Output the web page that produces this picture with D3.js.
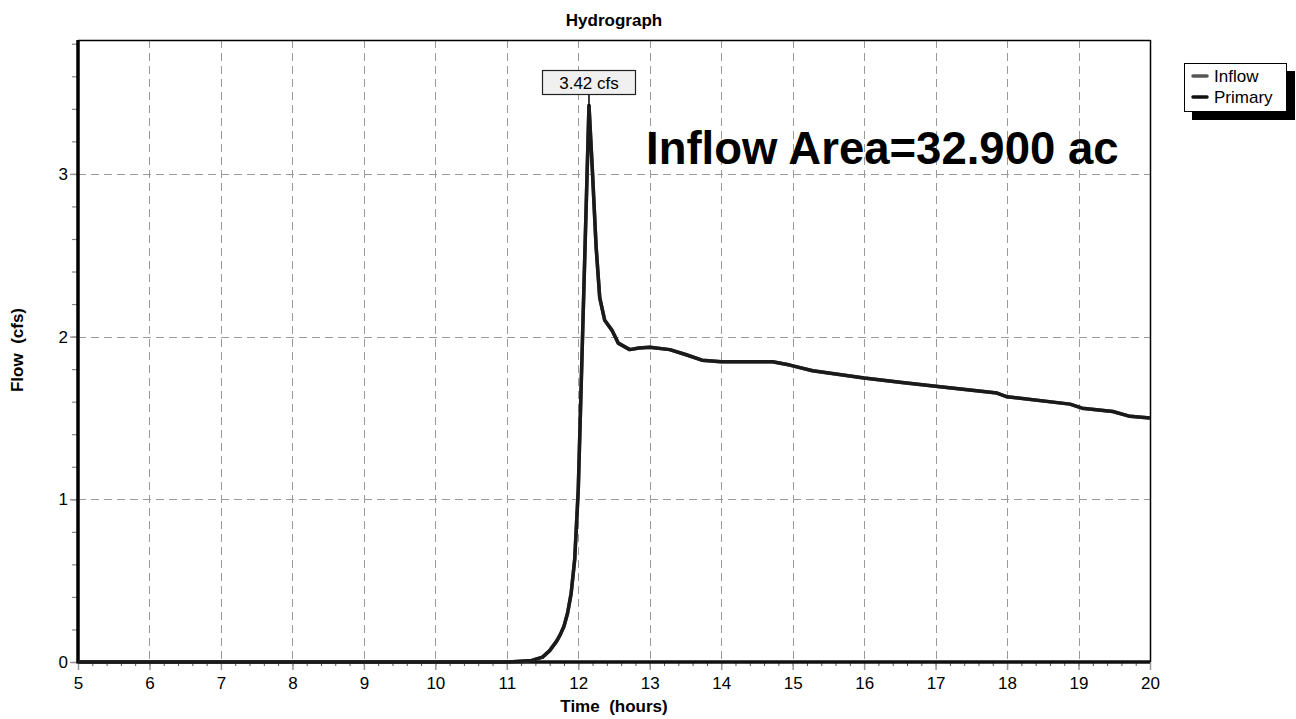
<!DOCTYPE html>
<html><head><meta charset="utf-8">
<script src="https://cdn.jsdelivr.net/npm/d3@7"></script>
<style>
body{margin:0;background:#fff;}
svg{display:block;font-family:"Liberation Sans",Arial,sans-serif;}
</style></head>
<body>
<svg id="chart" width="1296" height="719"></svg>
<script>
// ---- data ----
const times = [5, 11.0, 11.2, 11.35, 11.5, 11.6, 11.7, 11.75, 11.8, 11.85, 11.9, 11.95, 12.0, 12.15, 12.2, 12.25, 12.3, 12.37, 12.47, 12.56, 12.72, 12.85, 13.0, 13.28, 13.5, 13.73, 14.0, 14.72, 14.96, 15.28, 16.0, 16.5, 17.0, 17.86, 18.0, 18.88, 19.05, 19.48, 19.72, 20];
const primaryFlow = [0, 0, 0.005, 0.01, 0.03, 0.07, 0.13, 0.17, 0.22, 0.3, 0.42, 0.63, 1.06, 3.42, 3.0, 2.55, 2.24, 2.10, 2.04, 1.96, 1.92, 1.93, 1.935, 1.92, 1.89, 1.855, 1.845, 1.845, 1.825, 1.79, 1.745, 1.72, 1.695, 1.653, 1.63, 1.585, 1.56, 1.54, 1.51, 1.50];
const inflowFlow = primaryFlow.slice();
const xTicks = [5,6,7,8,9,10,11,12,13,14,15,16,17,18,19,20];
const yTicks = [0,1,2,3];
const seriesNames = ["Inflow","Primary"];
const peakLabel = "3.42 cfs";
const areaLabel = "Inflow Area=32.900 ac";

// ---- layout ----
const svg = d3.select("#chart");
const L=78, R=1150, T=40, B=662;
const FS = 17;
const x = d3.scaleLinear().domain([5,20]).range([L,R]);
const y = d3.scaleLinear().domain([0,3.823]).range([B,T]);

// grid
const grid = svg.append("g").attr("stroke","#9a9a9a").attr("stroke-width",1).attr("stroke-dasharray","8,5");
grid.selectAll("line.v").data(xTicks.filter(d=>d>5)).enter().append("line")
  .attr("x1",d=>Math.round(x(d))+0.5).attr("x2",d=>Math.round(x(d))+0.5).attr("y1",T).attr("y2",B);
grid.selectAll("line.h").data(yTicks.filter(d=>d>0)).enter().append("line")
  .attr("x1",L).attr("x2",R).attr("y1",d=>Math.round(y(d))+0.5).attr("y2",d=>Math.round(y(d))+0.5);

// frame top/right
svg.append("line").attr("x1",L).attr("x2",R+0.5).attr("y1",T+0.5).attr("y2",T+0.5).attr("stroke","#000").attr("stroke-width",1.5);
svg.append("line").attr("x1",R+0.5).attr("x2",R+0.5).attr("y1",T).attr("y2",B).attr("stroke","#000").attr("stroke-width",1.5);

// axes with d3
const xMinor = d3.range(5,20.001,0.2);
const xAxisMinor = d3.axisBottom(x).tickValues(xMinor).tickSize(4).tickFormat("");
const gxm = svg.append("g").attr("transform",`translate(0,${B})`).call(xAxisMinor);
gxm.select(".domain").remove();
gxm.selectAll("line").attr("stroke","#555");
const xAxis = d3.axisBottom(x).tickValues(xTicks).tickSize(8).tickPadding(7).tickFormat(d3.format("d"));
const gx = svg.append("g").attr("transform",`translate(0,${B})`).call(xAxis);
gx.select(".domain").remove();
gx.selectAll("line").attr("stroke","#999").attr("stroke-width",1.5);
gx.selectAll("text").attr("font-size",FS).attr("fill","#000").attr("font-family","Liberation Sans, Arial, sans-serif");

const yMinor = d3.range(0,3.81,0.2);
const yAxisMinor = d3.axisLeft(y).tickValues(yMinor).tickSize(6).tickFormat("");
const gym = svg.append("g").attr("transform",`translate(${L},0)`).call(yAxisMinor);
gym.select(".domain").remove();
gym.selectAll("line").attr("stroke","#888").attr("stroke-width",1.2);
const yAxis = d3.axisLeft(y).tickValues(yTicks).tickSize(8).tickPadding(2).tickFormat(d3.format("d"));
const gy = svg.append("g").attr("transform",`translate(${L},0)`).call(yAxis);
gy.select(".domain").remove();
gy.selectAll("line").attr("stroke","#999").attr("stroke-width",1.5);
gy.selectAll("text").attr("font-size",FS).attr("fill","#000").attr("font-family","Liberation Sans, Arial, sans-serif");

// thick axis lines
svg.append("line").attr("x1",L).attr("x2",L).attr("y1",T).attr("y2",B+1.5).attr("stroke","#000").attr("stroke-width",3.5);
svg.append("line").attr("x1",L).attr("x2",R).attr("y1",B).attr("y2",B).attr("stroke","#111").attr("stroke-width",3.5);

// series
const pts = arr => times.map((t,i)=>[t,arr[i]]);
const line = d3.line().x(d=>x(d[0])).y(d=>y(d[1]));
svg.append("path").attr("d",line(pts(inflowFlow))).attr("fill","none").attr("stroke","#555").attr("stroke-width",3.5).attr("stroke-linejoin","round");
svg.append("path").attr("d",line(pts(primaryFlow))).attr("fill","none").attr("stroke","#1a1a1a").attr("stroke-width",3.5).attr("stroke-linejoin","round");

// peak label
const pi = primaryFlow.indexOf(d3.max(primaryFlow));
const px = x(times[pi]), py = y(primaryFlow[pi]);
svg.append("line").attr("x1",px).attr("x2",px).attr("y1",94).attr("y2",py).attr("stroke","#000").attr("stroke-width",1.5);
svg.append("rect").attr("x",542.5).attr("y",70.5).attr("width",93).attr("height",24).attr("fill","#f0f0f0").attr("stroke","#222").attr("stroke-width",1.2);
svg.append("text").attr("x",589).attr("y",88.5).attr("text-anchor","middle").attr("font-size",FS).text(peakLabel);

// area label
svg.append("text").attr("x",646).attr("y",164).attr("font-size",45.5).attr("font-weight","bold").text(areaLabel);

// titles
svg.append("text").attr("x",614).attr("y",26).attr("text-anchor","middle").attr("font-size",FS).attr("font-weight","bold").text("Hydrograph");
svg.append("text").attr("x",614).attr("y",712).attr("text-anchor","middle").attr("font-size",FS).attr("font-weight","bold").style("white-space","pre").text("Time  (hours)");
svg.append("text").attr("transform","translate(23,350) rotate(-90)").attr("text-anchor","middle").attr("font-size",FS).attr("font-weight","bold").style("white-space","pre").text("Flow  (cfs)");

// legend
const lg = svg.append("g");
lg.append("rect").attr("x",1192).attr("y",71).attr("width",103).attr("height",49).attr("fill","#000");
lg.append("rect").attr("x",1184.5).attr("y",63.5).attr("width",102).attr("height",48).attr("fill","#fff").attr("stroke","#000").attr("stroke-width",1);
const legColors = ["#555","#111"];
seriesNames.forEach((n,i)=>{
  const yy = 76 + i*21;
  lg.append("line").attr("x1",1193).attr("x2",1207).attr("y1",yy).attr("y2",yy).attr("stroke",legColors[i]).attr("stroke-width",3.5).attr("stroke-linecap","round");
  lg.append("text").attr("x",1214).attr("y",yy+6).attr("font-size",FS).text(n);
});
</script>
</body></html>
